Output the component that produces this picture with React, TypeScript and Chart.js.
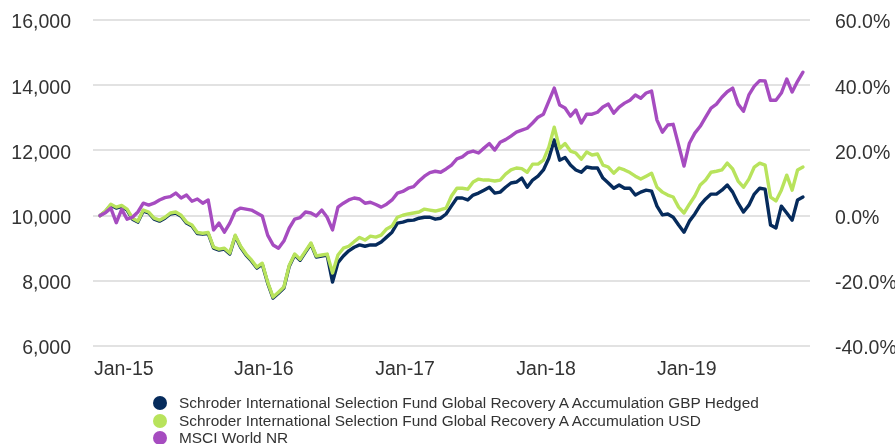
import React, { useEffect, useRef } from 'react';
import { Chart, registerables } from 'chart.js';

Chart.register(...registerables);

// Series names (legend)
const seriesNames = [
  'Schroder International Selection Fund Global Recovery A Accumulation GBP Hedged',
  'Schroder International Selection Fund Global Recovery A Accumulation USD',
  'MSCI World NR',
];
const seriesColors = ['#062b5c', '#b8e35c', '#a64cc0'];

// Bi-weekly values, end Oct 2014 -> end Oct 2019 (index = observation number)
const gbpHedged = [
  10000, 10120, 10320, 10230, 10280, 10170, 9890, 9800, 10140, 10080,
  9890, 9830, 9920, 10050, 10080, 9980, 9770, 9680, 9450, 9430,
  9450, 9000, 8940, 8970, 8820, 9370, 9030, 8790, 8610, 8390,
  8510, 7930, 7470, 7620, 7780, 8450, 8790, 8630, 8880, 9130,
  8730, 8760, 8790, 7960, 8560, 8760, 8920, 9030, 9100, 9060,
  9100, 9100, 9190, 9340, 9490, 9770, 9800, 9850, 9860, 9920,
  9950, 9950, 9890, 9920, 10050, 10300, 10540, 10540, 10480, 10630,
  10690, 10780, 10870, 10690, 10720, 10870, 11000, 11030, 11150, 10870,
  11090, 11210, 11400, 11760, 12320, 11700, 11780, 11550, 11400, 11330,
  11490, 11460, 11460, 11150, 11000, 10840, 10940, 10840, 10840, 10630,
  10720, 10780, 10750, 10290, 10020, 10050, 9950, 9710, 9490, 9830,
  10050, 10320, 10510, 10660, 10660, 10780, 10940, 10720, 10380, 10110,
  10320, 10660, 10840, 10810, 9710, 9620, 10290, 10080, 9860, 10480,
  10570,
];

const usd = [
  10000, 10140, 10350, 10260, 10310, 10200, 9920, 9830, 10170, 10110,
  9920, 9860, 9950, 10080, 10110, 10010, 9800, 9710, 9480, 9460,
  9480, 9030, 8970, 9000, 8850, 9400, 9060, 8820, 8640, 8420,
  8540, 7960, 7500, 7650, 7810, 8480, 8820, 8660, 8910, 9160,
  8760, 8790, 8820, 8240, 8790, 9000, 9060, 9200, 9330, 9250,
  9370, 9340, 9400, 9590, 9680, 9950, 10010, 10050, 10080, 10110,
  10200, 10170, 10140, 10180, 10230, 10600, 10840, 10840, 10810, 11030,
  11120, 11090, 11090, 11060, 11090, 11270, 11400, 11460, 11440, 11330,
  11580, 11580, 11700, 12100, 12710, 12060, 12210, 11980, 11920, 11730,
  11950, 11860, 11890, 11550, 11490, 11300, 11460, 11400, 11320, 11210,
  11120, 11210, 11300, 10870, 10720, 10630, 10570, 10260, 10080, 10350,
  10600, 10940, 11090, 11330, 11360, 11400, 11610, 11430, 11060, 10870,
  11120, 11490, 11610, 11550, 10570, 10450, 10780, 11240, 10780, 11400,
  11490,
];

const msci = [
  10000, 10090, 10230, 9780, 10190, 9890, 9950, 10110, 10380, 10320,
  10380, 10480, 10550, 10580, 10690, 10540, 10630, 10440, 10510, 10380,
  10480, 9560, 9770, 9490, 9770, 10140, 10230, 10200, 10170, 10080,
  9990, 9400, 9100, 9000, 9220, 9620, 9890, 9940, 10110, 10080,
  9990, 10170, 9950, 9560, 10260, 10380, 10480, 10540, 10510, 10380,
  10410, 10340, 10260, 10350, 10480, 10690, 10740, 10840, 10890, 11060,
  11210, 11320, 11360, 11330, 11430, 11550, 11740, 11800, 11930, 11980,
  11920, 12070, 12210, 12010, 12250, 12330, 12440, 12560, 12620, 12680,
  12840, 13020, 13110, 13510, 13910, 13390, 13300, 13050, 13240, 12840,
  13110, 13110, 13170, 13330, 13420, 13140, 13330, 13450, 13540, 13700,
  13600, 13760, 13820, 12930, 12560, 12780, 12800, 12160, 11520, 12220,
  12530, 12740, 13020, 13300, 13420, 13630, 13800, 13910, 13420, 13200,
  13700, 13970, 14140, 14130, 13540, 13540, 13760, 14190, 13790, 14120,
  14400,
];

// X-axis ticks (observation index of 1 January each year) and labels
const tickPositions = [4.4, 30.3, 56.4, 82.5, 108.5];
const tickLabels = ['Jan-15', 'Jan-16', 'Jan-17', 'Jan-18', 'Jan-19'];

const FONT = "'Liberation Sans', Arial, Helvetica, sans-serif";
const TEXT_COLOR = '#333333';

const zeroPad = (s: any) => {
  s.paddingTop = 0;
  s.paddingBottom = 0;
  s.paddingLeft = 0;
  s.paddingRight = 0;
};

export default function App() {
  const canvasRef = useRef<HTMLCanvasElement | null>(null);

  useEffect(() => {
    if (!canvasRef.current) return;
    const toPoints = (arr: number[]) => arr.map((v, i) => ({ x: i, y: v }));
    const seriesData = [gbpHedged, usd, msci];
    const chart = new Chart(canvasRef.current, {
      type: 'line',
      data: {
        datasets: seriesData.map((arr, k) => ({
          label: seriesNames[k],
          data: toPoints(arr),
          borderColor: seriesColors[k],
          backgroundColor: seriesColors[k],
          borderWidth: 3.4,
          pointRadius: 0,
          tension: 0,
          fill: false,
          borderJoinStyle: 'round' as const,
          borderCapStyle: 'round' as const,
          order: 3 - k,
          yAxisID: 'y',
        })),
      },
      options: {
        animation: false,
        responsive: true,
        maintainAspectRatio: false,
        devicePixelRatio: 1,
        layout: { padding: { top: 20, bottom: 58, left: 0, right: 0 } },
        plugins: {
          legend: { display: false },
          tooltip: { enabled: false },
        },
        scales: {
          x: {
            type: 'linear',
            min: -1.3,
            max: 131.3,
            grid: { display: false, drawTicks: false },
            border: { display: false },
            afterBuildTicks: (axis: any) => {
              axis.ticks = tickPositions.map((v) => ({ value: v }));
            },
            afterFit: (s: any) => {
              s.height = 40;
              zeroPad(s);
            },
            ticks: {
              autoSkip: false,
              maxRotation: 0,
              padding: 12,
              color: TEXT_COLOR,
              font: { family: FONT, size: 19.5 },
              callback: (_v: any, i: number) => tickLabels[i],
            },
          },
          y: {
            position: 'left',
            min: 6000,
            max: 16000,
            grid: { color: '#e2e2e2', lineWidth: 2, drawTicks: false },
            border: { display: false },
            afterFit: (s: any) => {
              s.width = 93;
              zeroPad(s);
            },
            ticks: {
              stepSize: 2000,
              padding: 22,
              labelOffset: 3,
              color: TEXT_COLOR,
              font: { family: FONT, size: 19.5 },
              callback: (v: any) => Number(v).toLocaleString('en-US'),
            },
          },
          y2: {
            position: 'right',
            min: -40,
            max: 60,
            grid: { display: false, drawTicks: false },
            border: { display: false },
            afterFit: (s: any) => {
              s.width = 85;
              zeroPad(s);
            },
            ticks: {
              stepSize: 20,
              padding: 25,
              labelOffset: 3,
              color: TEXT_COLOR,
              font: { family: FONT, size: 19.5 },
              callback: (v: any) => Number(v).toFixed(1) + '%',
            },
          },
        },
      } as any,
    });
    return () => chart.destroy();
  }, []);

  return (
    <div style={{ position: 'absolute', left: 0, top: 0, width: 895, height: 444, background: '#ffffff' }}>
      <canvas ref={canvasRef} />
      <div
        style={{
          position: 'absolute',
          left: 153,
          top: 394.5,
          fontFamily: FONT,
          fontSize: '15.4px',
          color: TEXT_COLOR,
        }}
      >
        {seriesNames.map((name, k) => (
          <div
            key={name}
            style={{ display: 'flex', alignItems: 'center', height: 17.5, whiteSpace: 'nowrap' }}
          >
            <span
              style={{
                display: 'inline-block',
                width: 14,
                height: 14,
                borderRadius: '50%',
                background: seriesColors[k],
                marginRight: 12,
                flex: '0 0 auto',
              }}
            />
            <span>{name}</span>
          </div>
        ))}
      </div>
    </div>
  );
}
